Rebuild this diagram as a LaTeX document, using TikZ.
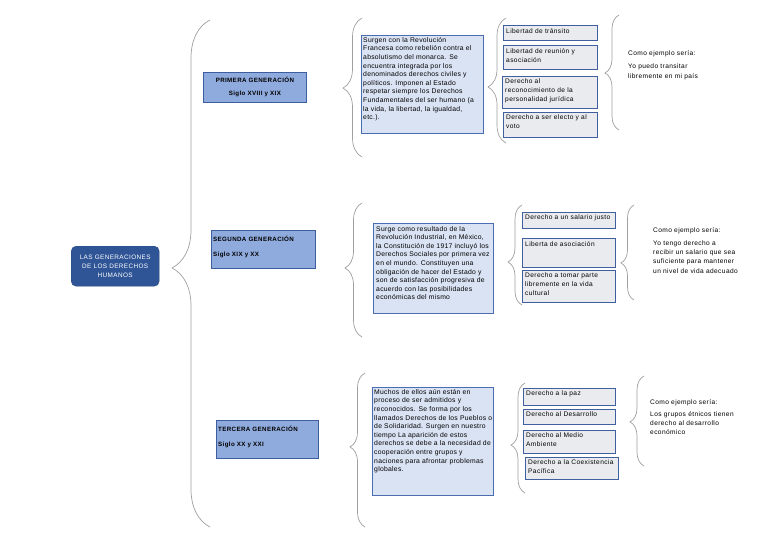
\documentclass[tikz,border=0pt]{standalone}
\usepackage{fontspec}
\setmainfont{Liberation Sans}[LetterSpace=6]
\newfontfamily\tbfont{Liberation Sans}[LetterSpace=4]
\usetikzlibrary{decorations.pathreplacing}
\definecolor{rootblue}{HTML}{2F5597}
\definecolor{genfill}{HTML}{8FAADC}
\definecolor{genborder}{HTML}{3C5E9E}
\definecolor{tfill}{HTML}{DAE3F3}
\definecolor{tborder}{HTML}{4A6CB0}
\definecolor{ifill}{HTML}{E9EBEF}
\definecolor{iborder}{HTML}{3F5F9F}
\definecolor{braceg}{HTML}{A0A0A0}
\begin{document}
\begin{tikzpicture}[x=1pt,y=-1pt,
  brc/.style={draw=braceg, line width=0.7pt, decorate},
  rootbox/.style={draw=rootblue!85!black, fill=rootblue, rounded corners=5pt, text=white, align=center, inner sep=0pt, font=\fontsize{6.4}{9}\selectfont},
  genbox/.style={draw=genborder, fill=genfill, inner sep=0pt, line width=0.8pt, anchor=north west},
  tbox/.style={draw=tborder, fill=tfill, inner sep=0pt, line width=0.8pt, anchor=north west},
  ibox/.style={draw=iborder, fill=ifill, inner sep=0pt, line width=0.8pt, anchor=north west},
  lbl/.style={anchor=north west, inner sep=0pt, align=left, font=\tbfont\fontsize{6.8}{8.6}\selectfont},
  ilbl/.style={anchor=north west, inner sep=0pt, align=left, font=\fontsize{6.6}{9}\selectfont},
  glbl/.style={anchor=north west, inner sep=0pt, align=left, font=\bfseries\fontsize{6.2}{15}\selectfont},
]
\useasboundingbox (0,0) rectangle (768,546);
\fill[white] (0,0) rectangle (768,546);

% root
\node[rootbox, minimum width=88pt, minimum height=40pt, anchor=north west] (root) at (71,246) {LAS GENERACIONES\\DE LOS DERECHOS\\HUMANOS};

% main brace
\coordinate (b0t) at (210,20);
\coordinate (b0b) at (210,527);
\draw[brc, decoration={brace, amplitude=38pt, aspect=0.511}] (b0b) -- (b0t);

% generation boxes
\node[genbox, minimum width=103pt, minimum height=30pt] (g1) at (203,72) {};
\node[align=center, inner sep=0pt, font=\bfseries\fontsize{6.2}{13}\selectfont] (g1t) at (g1.center) {PRIMERA GENERACIÓN\\Siglo XVIII y XIX};
\node[genbox, minimum width=104pt, minimum height=38pt] (g2) at (211,230) {};
\node[glbl] (g2t) at (213,236) {SEGUNDA GENERACIÓN\\Siglo XIX y XX};
\node[genbox, minimum width=102pt, minimum height=38pt] (g3) at (216,420) {};
\node[glbl] (g3t) at (218,426) {TERCERA GENERACIÓN\\Siglo XX y XXI};

% braces generation -> text
\coordinate (b1t) at (362,18);
\coordinate (b1b) at (362,157);
\draw[brc, decoration={brace, amplitude=19pt, aspect=0.496}] (b1b) -- (b1t);
\coordinate (b2t) at (362,203);
\coordinate (b2b) at (362,337);
\draw[brc, decoration={brace, amplitude=17pt, aspect=0.515}] (b2b) -- (b2t);
\coordinate (b3t) at (365,373);
\coordinate (b3b) at (365,527);
\draw[brc, decoration={brace, amplitude=15pt, aspect=0.52}] (b3b) -- (b3t);

% text boxes
\node[tbox, minimum width=122pt, minimum height=98pt] (t1) at (361,35) {};
\node[lbl] (t1t) at (363,37) {Surgen con la Revolución\\Francesa como rebelión contra el\\absolutismo del monarca.  Se\\encuentra integrada por los\\denominados derechos civiles y\\políticos.  Imponen al Estado\\respetar siempre los Derechos\\Fundamentales del ser humano (a\\la vida, la libertad, la igualdad,\\etc.).};
\node[tbox, minimum width=120pt, minimum height=90pt] (t2) at (373,223) {};
\node[lbl] (t2t) at (376,226) {Surge como resultado de la\\Revolución Industrial, en México,\\la Constitución de 1917 incluyó los\\Derechos Sociales por primera vez\\en el mundo. Constituyen una\\obligación de hacer del Estado y\\son de satisfacción progresiva de\\acuerdo con las posibilidades\\económicas del mismo};
\node[tbox, minimum width=121pt, minimum height=108pt] (t3) at (372,387) {};
\node[lbl] (t3t) at (374,389) {Muchos de ellos aún están en\\proceso de ser admitidos y\\reconocidos. Se forma por los\\llamados Derechos de los Pueblos o\\de Solidaridad. Surgen en nuestro\\tiempo La aparición de estos\\derechos se debe a la necesidad de\\cooperación entre grupos y\\naciones para afrontar problemas\\globales.};

% braces text -> items
\coordinate (bi1t) at (506,18);
\coordinate (bi1b) at (506,143);
\draw[brc, decoration={brace, amplitude=18pt, aspect=0.448}] (bi1b) -- (bi1t);
\coordinate (bi2t) at (522,205);
\coordinate (bi2b) at (522,305);
\draw[brc, decoration={brace, amplitude=14pt, aspect=0.43}] (bi2b) -- (bi2t);
\coordinate (bi3t) at (525,383);
\coordinate (bi3b) at (525,493);
\draw[brc, decoration={brace, amplitude=14pt, aspect=0.436}] (bi3b) -- (bi3t);

% items 1
\node[ibox, minimum width=94pt, minimum height=15pt] (i11) at (503,25) {};
\node[ilbl] (i11t) at (506,28) {Libertad de tránsito};
\node[ibox, minimum width=94pt, minimum height=24pt] (i12) at (503,45) {};
\node[ilbl] (i12t) at (506,48) {Libertad de reunión y\\asociación};
\node[ibox, minimum width=95pt, minimum height=32pt] (i13) at (502,76) {};
\node[ilbl] (i13t) at (505,79) {Derecho al\\reconocimiento de la\\personalidad jurídica};
\node[ibox, minimum width=94pt, minimum height=25pt] (i14) at (503,112) {};
\node[ilbl] (i14t) at (506,115) {Derecho a ser electo y al\\voto};

% items 2
\node[ibox, minimum width=93pt, minimum height=16pt] (i21) at (522,212) {};
\node[ilbl] (i21t) at (525,215) {Derecho a un salario justo};
\node[ibox, minimum width=93pt, minimum height=29pt] (i22) at (522,238) {};
\node[ilbl] (i22t) at (525,241) {Liberta de asociación};
\node[ibox, minimum width=93pt, minimum height=32pt] (i23) at (522,270) {};
\node[ilbl] (i23t) at (525,273) {Derecho a tomar parte\\libremente en la vida\\cultural};

% items 3
\node[ibox, minimum width=92pt, minimum height=17pt] (i31) at (523,388) {};
\node[ilbl] (i31t) at (526,391) {Derecho a la paz};
\node[ibox, minimum width=92pt, minimum height=15pt] (i32) at (523,409) {};
\node[ilbl] (i32t) at (526,412) {Derecho al Desarrollo};
\node[ibox, minimum width=92pt, minimum height=23pt] (i33) at (523,430) {};
\node[ilbl] (i33t) at (526,433) {Derecho al Medio\\Ambiente};
\node[ibox, minimum width=93pt, minimum height=22pt] (i34) at (525,457) {};
\node[ilbl] (i34t) at (528,460) {Derecho a la Coexistencia\\Pacífica};

% braces items -> examples
\coordinate (be1t) at (619,15);
\coordinate (be1b) at (619,130);
\draw[brc, decoration={brace, amplitude=14pt, aspect=0.496}] (be1b) -- (be1t);
\coordinate (be2t) at (634,205);
\coordinate (be2b) at (634,300);
\draw[brc, decoration={brace, amplitude=13pt, aspect=0.39}] (be2b) -- (be2t);
\coordinate (be3t) at (644,376);
\coordinate (be3b) at (644,466);
\draw[brc, decoration={brace, amplitude=14pt, aspect=0.49}] (be3b) -- (be3t);

% examples
\node[ilbl, font=\fontsize{6.6}{9.5}\selectfont] (e1) at (628,50) {Como ejemplo sería:\\[4pt]Yo puedo transitar\\libremente en mi país};
\node[ilbl, font=\fontsize{6.6}{9.3}\selectfont] (e2) at (653,227) {Como ejemplo sería:\\[4pt]Yo tengo derecho a\\recibir un salario que sea\\suficiente para mantener\\un nivel de vida adecuado};
\node[ilbl, font=\fontsize{6.6}{9.3}\selectfont] (e3) at (650,399) {Como ejemplo sería:\\[3pt]Los grupos étnicos tienen\\derecho al desarrollo\\económico};
\end{tikzpicture}
\end{document}
